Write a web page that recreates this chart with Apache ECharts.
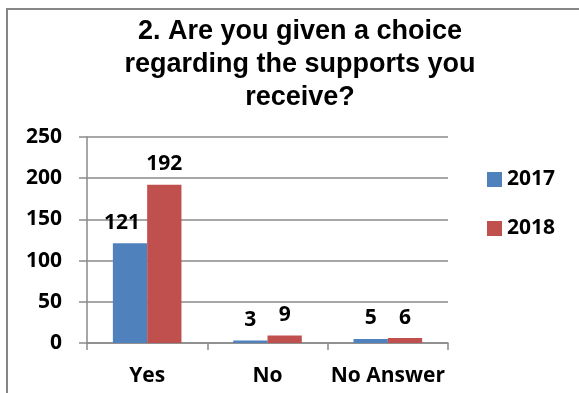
<!DOCTYPE html>
<html>
<head>
<meta charset="utf-8">
<style>
  html, body { margin: 0; padding: 0; background: #ffffff; }
  #chart { width: 579px; height: 393px; }
</style>
<script src="https://cdn.jsdelivr.net/npm/echarts@6/dist/echarts.min.js"></script>
</head>
<body>
<div id="chart"></div>
<script>
// Survey answers for question 2, by year
const categories = ['Yes', 'No', 'No Answer'];
const answers2017 = [121, 3, 5];
const answers2018 = [192, 9, 6];
const yTicks = [0, 50, 100, 150, 200, 250];
const seriesNames = ['2017', '2018'];

const labelFont = '"Open Sans", Lato, sans-serif';
const labelWeight = 'bold';
const labelSize = 21;
const gridGray = '#8a8a8a';

const chart = echarts.init(document.getElementById('chart'), null, { renderer: 'canvas' });

const barLabel = {
  show: true,
  position: 'top',
  distance: 10,
  color: '#000',
  fontFamily: labelFont,
  fontWeight: labelWeight,
  fontSize: labelSize
};

chart.setOption({
  animation: false,
  backgroundColor: '#ffffff',
  title: {
    text: '2. Are you given a choice\nregarding the supports you\nreceive?',
    left: 295,
    top: 10,
    textAlign: 'center',
    textStyle: {
      fontFamily: '"Liberation Sans", Arial, sans-serif',
      fontWeight: 'bold',
      fontSize: 27,
      lineHeight: 33,
      color: '#000'
    }
  },
  graphic: [{
    type: 'rect',
    shape: { x: 7, y: 9, width: 700, height: 500 },
    style: { fill: 'none', stroke: '#868686', lineWidth: 2 },
    silent: true
  }],
  legend: {
    orient: 'vertical',
    left: 482,
    top: 164,
    itemWidth: 15,
    itemHeight: 15,
    itemGap: 28,
    icon: 'rect',
    data: seriesNames,
    textStyle: {
      fontFamily: labelFont,
      fontWeight: labelWeight,
      fontSize: labelSize,
      color: '#000'
    }
  },
  grid: { left: 87, right: 131, top: 137, bottom: 50, containLabel: false },
  xAxis: {
    type: 'category',
    data: categories,
    axisLine: { lineStyle: { color: gridGray, width: 1.5 } },
    axisTick: { show: true, length: 7, lineStyle: { color: gridGray, width: 1.5 } },
    axisLabel: {
      interval: 0,
      margin: 23,
      color: '#000',
      fontFamily: labelFont,
      fontWeight: labelWeight,
      fontSize: labelSize
    }
  },
  yAxis: {
    type: 'value',
    min: yTicks[0],
    max: yTicks[yTicks.length - 1],
    interval: yTicks[1] - yTicks[0],
    axisLine: { show: true, lineStyle: { color: gridGray, width: 1.5 } },
    axisTick: { show: true, length: 8, lineStyle: { color: gridGray, width: 1.5 } },
    splitLine: { show: true, lineStyle: { color: gridGray, width: 1.5 } },
    axisLabel: {
      margin: 25,
      color: '#000',
      fontFamily: labelFont,
      fontWeight: labelWeight,
      fontSize: labelSize
    }
  },
  series: [
    {
      name: seriesNames[0],
      type: 'bar',
      data: answers2017.map((v, i) => i === 0 ? { value: v, label: { offset: [-8, 0] } } : v),
      barGap: '0%',
      barCategoryGap: '43%',
      itemStyle: { color: '#4F81BD' },
      label: barLabel
    },
    {
      name: seriesNames[1],
      type: 'bar',
      data: answers2018,
      barGap: '0%',
      barCategoryGap: '43%',
      itemStyle: { color: '#C0504D' },
      label: barLabel
    }
  ]
});
</script>
</body>
</html>
